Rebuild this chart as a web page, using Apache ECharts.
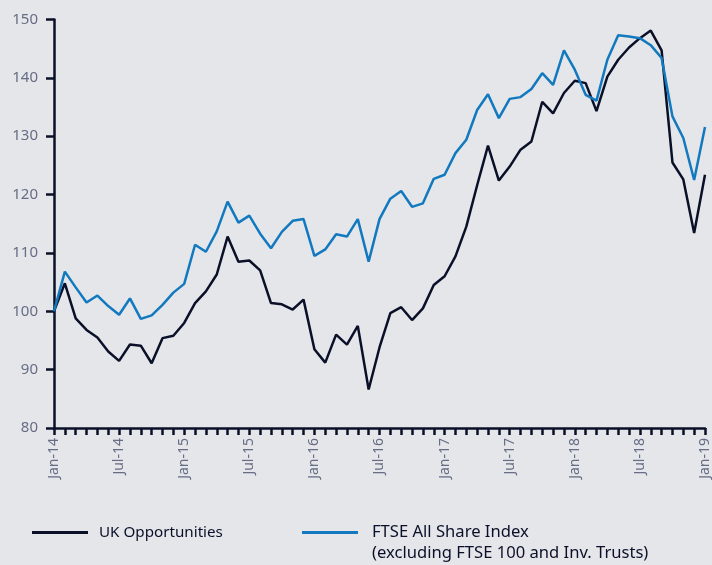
<!DOCTYPE html>
<html>
<head>
<meta charset="utf-8">
<script src="https://cdn.jsdelivr.net/npm/echarts@6/dist/echarts.min.js"></script>
<style>
  html, body { margin: 0; padding: 0; background: #e4e6ea; }
  #chart { width: 712px; height: 565px; }
</style>
</head>
<body>
<div id="chart"></div>
<script>
// monthly, Jan-14 .. Jan-19
const months = [
  'Jan-14','Feb-14','Mar-14','Apr-14','May-14','Jun-14','Jul-14','Aug-14','Sep-14','Oct-14','Nov-14','Dec-14',
  'Jan-15','Feb-15','Mar-15','Apr-15','May-15','Jun-15','Jul-15','Aug-15','Sep-15','Oct-15','Nov-15','Dec-15',
  'Jan-16','Feb-16','Mar-16','Apr-16','May-16','Jun-16','Jul-16','Aug-16','Sep-16','Oct-16','Nov-16','Dec-16',
  'Jan-17','Feb-17','Mar-17','Apr-17','May-17','Jun-17','Jul-17','Aug-17','Sep-17','Oct-17','Nov-17','Dec-17',
  'Jan-18','Feb-18','Mar-18','Apr-18','May-18','Jun-18','Jul-18','Aug-18','Sep-18','Oct-18','Nov-18','Dec-18',
  'Jan-19'
];

const ukOpportunities = [
  100, 104.8, 98.8, 96.8, 95.5, 93.1, 91.5, 94.3, 94.1, 91.1, 95.4, 95.8,
  98.0, 101.4, 103.4, 106.3, 112.8, 108.5, 108.7, 107.0, 101.4, 101.2, 100.3, 102.0,
  93.5, 91.2, 96.0, 94.3, 97.5, 86.6, 93.8, 99.7, 100.7, 98.5, 100.5, 104.5,
  106.0, 109.4, 114.5, 121.6, 128.4, 122.4, 124.8, 127.7, 129.1, 135.9, 133.9, 137.4,
  139.5, 139.1, 134.3, 140.2, 143.1, 145.2, 146.8, 148.1, 144.7, 125.5, 122.6, 113.4,
  123.4
];

const ftseAllShare = [
  100, 106.8, 104.1, 101.5, 102.7, 100.9, 99.4, 102.2, 98.7, 99.3, 101.1, 103.2,
  104.7, 111.4, 110.2, 113.7, 118.8, 115.2, 116.4, 113.3, 110.8, 113.6, 115.5, 115.8,
  109.5, 110.6, 113.2, 112.8, 115.8, 108.5, 115.8, 119.3, 120.6, 117.9, 118.5, 122.7,
  123.4, 127.1, 129.4, 134.5, 137.2, 133.1, 136.4, 136.7, 138.1, 140.8, 138.8, 144.7,
  141.4, 137.1, 136.1, 143.1, 147.3, 147.1, 146.8, 145.6, 143.4, 133.4, 129.7, 122.5,
  131.6
];

const yTicks = [80, 90, 100, 110, 120, 130, 140, 150];

const navy = '#0b1029';
const blue = '#1279bf';
const grey = '#666d84';
const font = '"Noto Sans", "Open Sans", sans-serif';

const ukName = 'UK Opportunities';
const ftseLine1 = 'FTSE All Share Index';
const ftseLine2 = '(excluding FTSE 100 and Inv. Trusts)';
const ftseName = ftseLine1 + ' ' + ftseLine2;

const chart = echarts.init(document.getElementById('chart'), null, { renderer: 'canvas' });

const legendBase = {
  top: 520,
  itemWidth: 56, itemHeight: 3, itemGap: 0,
  icon: 'rect',
  selectedMode: false
};

const option = {
  backgroundColor: '#e4e6ea',
  animation: false,
  textStyle: { fontFamily: font },
  grid: { left: 54, right: 3, top: 19.5, bottom: 137, containLabel: false },
  legend: [
    {
      ...legendBase,
      data: [ukName],
      left: 27,
      textStyle: { color: navy, fontSize: 15.2, fontFamily: font, padding: [0, 0, 0, 6] }
    },
    {
      ...legendBase,
      top: 519,
      data: [ftseName],
      left: 297,
      formatter: () => ftseLine1,
      textStyle: { color: navy, fontSize: 16.6, fontFamily: font, padding: [0, 0, 0, 9] }
    },
    {
      // second line of the FTSE label, icon hidden
      ...legendBase,
      top: 540,
      data: [ftseName],
      left: 297,
      formatter: () => ftseLine2,
      itemStyle: { opacity: 0 },
      lineStyle: { opacity: 0 },
      textStyle: { color: navy, fontSize: 16.6, fontFamily: font, padding: [0, 0, 0, 9] }
    }
  ],
  xAxis: {
    type: 'category',
    data: months,
    boundaryGap: false,
    axisLine: { lineStyle: { color: navy, width: 2.5 } },
    axisTick: { show: true, interval: 0, length: 7, lineStyle: { color: navy, width: 2.5 } },
    axisLabel: {
      interval: 5,
      rotate: 90,
      margin: 10,
      color: grey,
      fontSize: 14,
      fontFamily: font
    },
    splitLine: { show: false }
  },
  yAxis: {
    type: 'value',
    min: yTicks[0],
    max: yTicks[yTicks.length - 1],
    interval: 10,
    axisLine: { show: true, lineStyle: { color: navy, width: 2.5 } },
    axisTick: { show: true, length: 8, lineStyle: { color: navy, width: 2.5 } },
    axisLabel: { margin: 16, color: grey, fontSize: 15, fontFamily: font },
    splitLine: { show: false }
  },
  series: [
    {
      name: ukName,
      type: 'line',
      data: ukOpportunities,
      symbol: 'none',
      lineStyle: { color: navy, width: 2.5 },
      itemStyle: { color: navy }
    },
    {
      name: ftseName,
      type: 'line',
      data: ftseAllShare,
      symbol: 'none',
      lineStyle: { color: blue, width: 2.5 },
      itemStyle: { color: blue }
    }
  ]
};

chart.setOption(option);
</script>
</body>
</html>
